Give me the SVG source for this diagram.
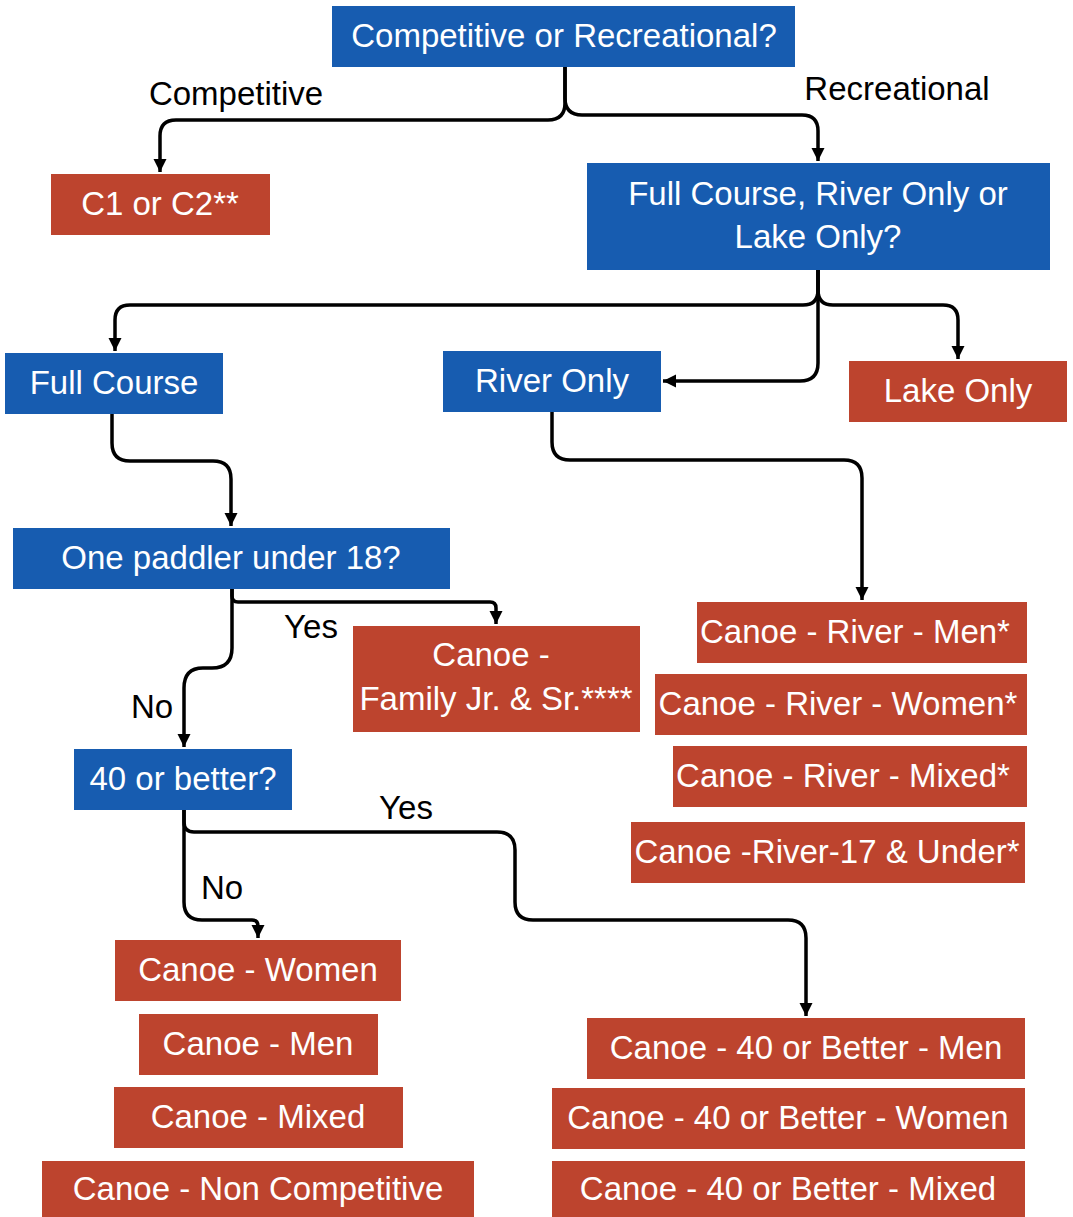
<svg xmlns="http://www.w3.org/2000/svg" width="1073" height="1217" viewBox="0 0 1073 1217">
<style>
.b{fill:#175cb0}
.r{fill:#bd442e}
.t{font-family:"Liberation Sans",Arial,sans-serif;font-size:33px;fill:#ffffff;text-anchor:middle}
.l{font-family:"Liberation Sans",Arial,sans-serif;font-size:33px;fill:#000000;text-anchor:middle}
.c{fill:none;stroke:#000;stroke-width:3.5;stroke-linejoin:round}
</style>
<defs>
<marker id="ah" markerUnits="userSpaceOnUse" markerWidth="15" markerHeight="15" refX="13" refY="6.5" orient="auto">
<path d="M0,0 L13,6.5 L0,13 Z" fill="#000"/>
</marker>
</defs>
<rect width="1073" height="1217" fill="#fff"/>
<g id="connectors">
<path class="c" d="M565,67 L565,103 Q565,120 548,120 L176,120 Q160,120 160,136 L160,172" marker-end="url(#ah)"/>
<path class="c" d="M565,67 L565,98 Q565,115 582,115 L802,115 Q818,115 818,131 L818,161" marker-end="url(#ah)"/>
<path class="c" d="M818,270 L818,290 Q818,305 803,305 L130,305 Q115,305 115,320 L115,351" marker-end="url(#ah)"/>
<path class="c" d="M818,270 L818,290 Q818,305 833,305 L943,305 Q958,305 958,320 L958,359" marker-end="url(#ah)"/>
<path class="c" d="M818,270 L818,363 Q818,381 800,381 L663,381" marker-end="url(#ah)"/>
<path class="c" d="M112,414 L112,443 Q112,461 130,461 L213,461 Q231,461 231,479 L231,526" marker-end="url(#ah)"/>
<path class="c" d="M552,412 L552,442 Q552,460 570,460 L844,460 Q862,460 862,478 L862,600" marker-end="url(#ah)"/>
<path class="c" d="M232,589 L232,596 Q232,602 238,602 L490,602 Q496,602 496,608 L496,624" marker-end="url(#ah)"/>
<path class="c" d="M232,589 L232,648 Q232,668 212,668 L203,668 Q184,668 184,688 L184,747" marker-end="url(#ah)"/>
<path class="c" d="M184,810 L184,822 Q184,832 194,832 L497,832 Q515,832 515,850 L515,902 Q515,920 533,920 L788,920 Q806,920 806,938 L806,1016" marker-end="url(#ah)"/>
<path class="c" d="M184,810 L184,902 Q184,920 202,920 L252,920 Q258,920 258,926 L258,938" marker-end="url(#ah)"/>
</g>
<g id="lbl-competitive"><text class="l" x="236" y="105">Competitive</text></g>
<g id="lbl-recreational"><text class="l" x="897" y="100">Recreational</text></g>
<g id="lbl-yes1"><text class="l" x="311" y="638">Yes</text></g>
<g id="lbl-no1"><text class="l" x="152" y="718">No</text></g>
<g id="lbl-yes2"><text class="l" x="406" y="819">Yes</text></g>
<g id="lbl-no2"><text class="l" x="222" y="899">No</text></g>
<g id="n-top"><rect class="b" x="332" y="6" width="463" height="61"/><text class="t" x="564" y="47">Competitive or Recreational?</text></g>
<g id="n-c1c2"><rect class="r" x="51" y="174" width="219" height="61"/><text class="t" x="160" y="215">C1 or C2**</text></g>
<g id="n-course"><rect class="b" x="587" y="163" width="463" height="107"/><text class="t" x="818" y="205">Full Course, River Only or</text><text class="t" x="818" y="248">Lake Only?</text></g>
<g id="n-full"><rect class="b" x="5" y="353" width="218" height="61"/><text class="t" x="114" y="394">Full Course</text></g>
<g id="n-river"><rect class="b" x="443" y="351" width="218" height="61"/><text class="t" x="552" y="392">River Only</text></g>
<g id="n-lake"><rect class="r" x="849" y="361" width="218" height="61"/><text class="t" x="958" y="402">Lake Only</text></g>
<g id="n-under18"><rect class="b" x="13" y="528" width="437" height="61"/><text class="t" x="231" y="569">One paddler under 18?</text></g>
<g id="n-family"><rect class="r" x="353" y="626" width="287" height="106"/><text class="t" x="491" y="666">Canoe -</text><text class="t" x="496" y="710">Family Jr. &amp; Sr.****</text></g>
<g id="n-40"><rect class="b" x="74" y="749" width="218" height="61"/><text class="t" x="183" y="790">40 or better?</text></g>
<g id="n-rmen"><rect class="r" x="697" y="602" width="330" height="61"/><text class="t" x="855" y="643">Canoe - River - Men*</text></g>
<g id="n-rwomen"><rect class="r" x="655" y="674" width="372" height="61"/><text class="t" x="838" y="715">Canoe - River - Women*</text></g>
<g id="n-rmixed"><rect class="r" x="673" y="746" width="354" height="61"/><text class="t" x="843" y="787">Canoe - River - Mixed*</text></g>
<g id="n-r17"><rect class="r" x="631" y="822" width="394" height="61"/><text class="t" x="827" y="863">Canoe -River-17 &amp; Under*</text></g>
<g id="n-women"><rect class="r" x="115" y="940" width="286" height="61"/><text class="t" x="258" y="981">Canoe - Women</text></g>
<g id="n-men"><rect class="r" x="139" y="1014" width="239" height="61"/><text class="t" x="258" y="1055">Canoe - Men</text></g>
<g id="n-mixed"><rect class="r" x="114" y="1087" width="289" height="61"/><text class="t" x="258" y="1128">Canoe - Mixed</text></g>
<g id="n-noncomp"><rect class="r" x="42" y="1161" width="432" height="56"/><text class="t" x="258" y="1200">Canoe - Non Competitive</text></g>
<g id="n-40men"><rect class="r" x="587" y="1018" width="438" height="61"/><text class="t" x="806" y="1059">Canoe - 40 or Better - Men</text></g>
<g id="n-40women"><rect class="r" x="552" y="1088" width="473" height="61"/><text class="t" x="788" y="1129">Canoe - 40 or Better - Women</text></g>
<g id="n-40mixed"><rect class="r" x="552" y="1161" width="473" height="56"/><text class="t" x="788" y="1200">Canoe - 40 or Better - Mixed</text></g>
</svg>
